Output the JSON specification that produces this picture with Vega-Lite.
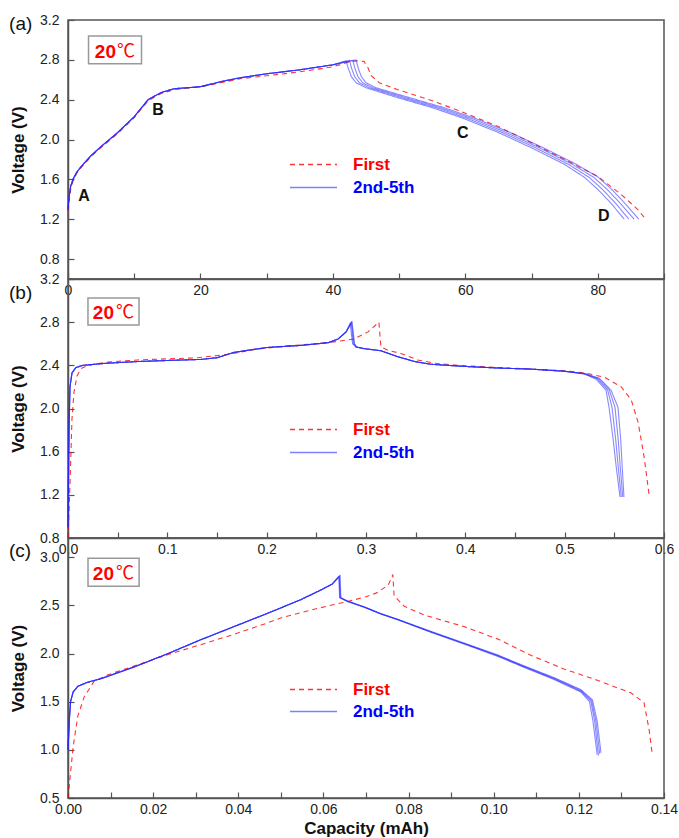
{
"$schema": "https://vega.github.io/schema/vega-lite/v6.json",
"padding": {"left": 8, "top": 12, "right": 0, "bottom": 0},
"spacing": 0,
"bounds": "flush",
"config": {
  "font": "Liberation Sans",
  "view": {"stroke": "#555", "strokeWidth": 1.5},
  "axis": {"domainColor": "#555", "domainWidth": 1.5, "tickColor": "#555", "tickWidth": 1.2, "labelFontSize": 14, "labelColor": "#222", "labelFont": "Liberation Sans", "titleFont": "Liberation Sans", "titleFontSize": 17, "titleFontWeight": "bold", "titleColor": "#111", "grid": false, "labelFlush": false, "labelOverlap": false, "labelBound": false},
  "legend": {"orient": "none", "legendX": 221, "title": null, "symbolType": "stroke", "symbolSize": 2209, "symbolStrokeWidth": 1.3, "labelFontSize": 17, "labelFontWeight": "bold", "labelFont": "Liberation Sans", "labelOffset": 15, "padding": 0}
},
"resolve": {"scale": {"color": "independent", "strokeDash": "independent"}, "legend": {"color": "independent", "strokeDash": "independent"}},
"vconcat": [
{
  "width": 596, "height": 259,
  "layer": [
    {"data": {"values": [{"x": 3.1, "xe": 11.1, "v": 2.76, "ve": 3.04}]},
     "mark": {"type": "rect", "fill": "white", "stroke": "#999", "strokeWidth": 1.5},
     "encoding": {
       "x": {"field": "x", "type": "quantitative", "title": null, "scale": {"domain": [0, 90], "nice": false},
             "axis": {"values": [0,10,20,30,40,50,60,70,80,90], "format": "d", "labelExpr": "datum.value % 20 === 0 ? datum.label : ''", "tickSize": -6, "labelPadding": 10, "encode": {"ticks": {"update": {"y2": {"signal": "datum.value % 20 === 0 ? -6 : -3"}}}}}},
       "x2": {"field": "xe"},
       "y": {"field": "v", "type": "quantitative", "title": "Voltage (V)", "scale": {"domain": [0.6, 3.2], "nice": false},
             "axis": {"values": [0.8,1.0,1.2,1.4,1.6,1.8,2.0,2.2,2.4,2.6,2.8,3.0,3.2], "format": ".1f", "labelExpr": "round(datum.value*10) % 4 === 0 ? datum.label : ''", "tickSize": -6, "labelPadding": 15, "titlePadding": 12, "encode": {"ticks": {"update": {"x2": {"signal": "round(datum.value*10) % 4 === 0 ? 6 : 3"}}}}}},
       "y2": {"field": "ve"}
     }},
    {"data": {"values": [
{"s":"1st","x":0,"v":1.28},{"s":"1st","x":0.15,"v":1.38},{"s":"1st","x":0.4,"v":1.5},{"s":"1st","x":0.75,"v":1.58},{"s":"1st","x":1.3,"v":1.66},{"s":"1st","x":2,"v":1.72},{"s":"1st","x":3.5,"v":1.83},{"s":"1st","x":5,"v":1.92},{"s":"1st","x":7.5,"v":2.06},{"s":"1st","x":10,"v":2.22},{"s":"1st","x":12.1,"v":2.39},{"s":"1st","x":14,"v":2.46},{"s":"1st","x":16,"v":2.5},{"s":"1st","x":20,"v":2.53},{"s":"1st","x":23,"v":2.57},{"s":"1st","x":26,"v":2.61},{"s":"1st","x":30,"v":2.64},{"s":"1st","x":35,"v":2.68},{"s":"1st","x":40,"v":2.73},{"s":"1st","x":42,"v":2.77},{"s":"1st","x":43.5,"v":2.79},{"s":"1st","x":44.7,"v":2.785},{"s":"1st","x":45.3,"v":2.72},{"s":"1st","x":45.8,"v":2.64},{"s":"1st","x":47,"v":2.57},{"s":"1st","x":49.8,"v":2.5},{"s":"1st","x":55,"v":2.39},{"s":"1st","x":59.8,"v":2.27},{"s":"1st","x":65,"v":2.13},{"s":"1st","x":69.9,"v":1.97},{"s":"1st","x":75,"v":1.8},{"s":"1st","x":80,"v":1.63},{"s":"1st","x":83.5,"v":1.45},{"s":"1st","x":86,"v":1.3},{"s":"1st","x":87,"v":1.22},
{"s":"5th","x":0,"v":1.3},{"s":"5th","x":0.15,"v":1.42},{"s":"5th","x":0.4,"v":1.53},{"s":"5th","x":0.75,"v":1.6},{"s":"5th","x":1.3,"v":1.67},{"s":"5th","x":2,"v":1.73},{"s":"5th","x":3.5,"v":1.84},{"s":"5th","x":5,"v":1.93},{"s":"5th","x":7.5,"v":2.07},{"s":"5th","x":10,"v":2.23},{"s":"5th","x":12.1,"v":2.4},{"s":"5th","x":14,"v":2.47},{"s":"5th","x":16,"v":2.51},{"s":"5th","x":20,"v":2.53},{"s":"5th","x":23,"v":2.58},{"s":"5th","x":26,"v":2.62},{"s":"5th","x":30,"v":2.66},{"s":"5th","x":35,"v":2.7},{"s":"5th","x":40,"v":2.75},
{"s":"5th","x":42.0,"v":2.79},{"s":"5th","x":42.3,"v":2.72},{"s":"5th","x":42.8,"v":2.63},{"s":"5th","x":43.5,"v":2.57},{"s":"5th","x":45,"v":2.52},{"s":"5th","x":49.8,"v":2.42},{"s":"5th","x":55,"v":2.32},{"s":"5th","x":59.8,"v":2.21},{"s":"5th","x":65,"v":2.07},{"s":"5th","x":69.9,"v":1.92},{"s":"5th","x":75,"v":1.75},{"s":"5th","x":78,"v":1.62},{"s":"5th","x":80,"v":1.5},{"s":"5th","x":82,"v":1.36},{"s":"5th","x":84.0,"v":1.2},
{"s":"4th","x":0,"v":1.3},{"s":"4th","x":0.15,"v":1.42},{"s":"4th","x":0.4,"v":1.53},{"s":"4th","x":0.75,"v":1.6},{"s":"4th","x":1.3,"v":1.67},{"s":"4th","x":2,"v":1.73},{"s":"4th","x":3.5,"v":1.84},{"s":"4th","x":5,"v":1.93},{"s":"4th","x":7.5,"v":2.07},{"s":"4th","x":10,"v":2.23},{"s":"4th","x":12.1,"v":2.4},{"s":"4th","x":14,"v":2.47},{"s":"4th","x":16,"v":2.51},{"s":"4th","x":20,"v":2.53},{"s":"4th","x":23,"v":2.58},{"s":"4th","x":26,"v":2.62},{"s":"4th","x":30,"v":2.66},{"s":"4th","x":35,"v":2.7},{"s":"4th","x":40,"v":2.75},
{"s":"4th","x":42.5,"v":2.795},{"s":"4th","x":42.8,"v":2.72},{"s":"4th","x":43.3,"v":2.63},{"s":"4th","x":44.0,"v":2.57},{"s":"4th","x":45.5,"v":2.52},{"s":"4th","x":50.4,"v":2.42},{"s":"4th","x":55.6,"v":2.32},{"s":"4th","x":60.4,"v":2.21},{"s":"4th","x":65.6,"v":2.07},{"s":"4th","x":70.5,"v":1.92},{"s":"4th","x":75.6,"v":1.75},{"s":"4th","x":78.7,"v":1.62},{"s":"4th","x":80.7,"v":1.5},{"s":"4th","x":82.7,"v":1.36},{"s":"4th","x":84.7,"v":1.2},
{"s":"3rd","x":0,"v":1.3},{"s":"3rd","x":0.15,"v":1.42},{"s":"3rd","x":0.4,"v":1.53},{"s":"3rd","x":0.75,"v":1.6},{"s":"3rd","x":1.3,"v":1.67},{"s":"3rd","x":2,"v":1.73},{"s":"3rd","x":3.5,"v":1.84},{"s":"3rd","x":5,"v":1.93},{"s":"3rd","x":7.5,"v":2.07},{"s":"3rd","x":10,"v":2.23},{"s":"3rd","x":12.1,"v":2.4},{"s":"3rd","x":14,"v":2.47},{"s":"3rd","x":16,"v":2.51},{"s":"3rd","x":20,"v":2.53},{"s":"3rd","x":23,"v":2.58},{"s":"3rd","x":26,"v":2.62},{"s":"3rd","x":30,"v":2.66},{"s":"3rd","x":35,"v":2.7},{"s":"3rd","x":40,"v":2.75},
{"s":"3rd","x":43.0,"v":2.795},{"s":"3rd","x":43.3,"v":2.72},{"s":"3rd","x":43.8,"v":2.63},{"s":"3rd","x":44.5,"v":2.57},{"s":"3rd","x":46,"v":2.52},{"s":"3rd","x":51,"v":2.42},{"s":"3rd","x":56.2,"v":2.32},{"s":"3rd","x":61,"v":2.21},{"s":"3rd","x":66.2,"v":2.07},{"s":"3rd","x":71.1,"v":1.92},{"s":"3rd","x":76.2,"v":1.75},{"s":"3rd","x":79.4,"v":1.62},{"s":"3rd","x":81.4,"v":1.5},{"s":"3rd","x":83.4,"v":1.36},{"s":"3rd","x":85.5,"v":1.2},
{"s":"2nd","x":0,"v":1.3},{"s":"2nd","x":0.15,"v":1.42},{"s":"2nd","x":0.4,"v":1.53},{"s":"2nd","x":0.75,"v":1.6},{"s":"2nd","x":1.3,"v":1.67},{"s":"2nd","x":2,"v":1.73},{"s":"2nd","x":3.5,"v":1.84},{"s":"2nd","x":5,"v":1.93},{"s":"2nd","x":7.5,"v":2.07},{"s":"2nd","x":10,"v":2.23},{"s":"2nd","x":12.1,"v":2.4},{"s":"2nd","x":14,"v":2.47},{"s":"2nd","x":16,"v":2.51},{"s":"2nd","x":20,"v":2.53},{"s":"2nd","x":23,"v":2.58},{"s":"2nd","x":26,"v":2.62},{"s":"2nd","x":30,"v":2.66},{"s":"2nd","x":35,"v":2.7},{"s":"2nd","x":40,"v":2.75},
{"s":"2nd","x":43.5,"v":2.8},{"s":"2nd","x":43.8,"v":2.72},{"s":"2nd","x":44.3,"v":2.63},{"s":"2nd","x":45.0,"v":2.57},{"s":"2nd","x":46.5,"v":2.52},{"s":"2nd","x":51.6,"v":2.42},{"s":"2nd","x":56.8,"v":2.32},{"s":"2nd","x":61.6,"v":2.21},{"s":"2nd","x":66.8,"v":2.07},{"s":"2nd","x":71.7,"v":1.92},{"s":"2nd","x":76.8,"v":1.75},{"s":"2nd","x":80.1,"v":1.62},{"s":"2nd","x":82.1,"v":1.5},{"s":"2nd","x":84.1,"v":1.36},{"s":"2nd","x":86.2,"v":1.2}
     ]},
     "mark": {"type": "line", "strokeWidth": 1.1},
     "encoding": {
       "x": {"field": "x", "type": "quantitative", "title": null},
       "y": {"field": "v", "type": "quantitative", "title": "Voltage (V)"},
       "color": {"field": "s", "type": "nominal", "scale": {"domain": ["1st","2nd","3rd","4th","5th"], "range": ["rgba(255,0,0,0.8)","rgba(40,40,255,0.55)","rgba(40,40,255,0.55)","rgba(40,40,255,0.55)","rgba(40,40,255,0.55)"]},
                 "legend": {"legendY": 120, "values": ["1st"], "labelExpr": "'First'", "symbolDash": [5,4], "labelColor": "#ff0000"}},
       "strokeDash": {"field": "s", "type": "nominal", "scale": {"domain": ["5th","4th","3rd","2nd","1st"], "range": [[1,0],[1,0],[1,0],[1,0],[5,4]]},
                 "legend": {"legendY": 143, "values": ["2nd"], "labelExpr": "'2nd-5th'", "symbolStrokeColor": "rgba(40,40,255,0.6)", "labelColor": "#0000ff"}}
     }},
    {"data": {"values": [{"x": 7.25, "v": 2.88, "t": "20"}]},
     "mark": {"type": "text", "align": "right", "baseline": "middle", "fontWeight": "bold", "fontSize": 19, "color": "#ff0000"},
     "encoding": {"x": {"field": "x", "type": "quantitative", "title": null}, "y": {"field": "v", "type": "quantitative", "title": "Voltage (V)"}, "text": {"field": "t"}}},
    {"data": {"values": [{"x": 7.4, "v": 2.88, "t": "℃"}]},
     "mark": {"type": "text", "align": "left", "baseline": "middle", "fontSize": 18, "font": "Noto Sans CJK SC", "color": "#ff0000"},
     "encoding": {"x": {"field": "x", "type": "quantitative", "title": null}, "y": {"field": "v", "type": "quantitative", "title": "Voltage (V)"}, "text": {"field": "t"}}},
    {"data": {"values": [{"x": -8.9, "v": 3.16, "t": "(a)"}]},
     "mark": {"type": "text", "align": "left", "baseline": "middle", "fontSize": 19, "color": "#111"},
     "encoding": {"x": {"field": "x", "type": "quantitative", "title": null}, "y": {"field": "v", "type": "quantitative", "title": "Voltage (V)"}, "text": {"field": "t"}}},
    {"data": {"values": [{"x": 2.42, "v": 1.43, "t": "A"}, {"x": 13.6, "v": 2.3, "t": "B"}, {"x": 59.6, "v": 2.07, "t": "C"}, {"x": 80.9, "v": 1.23, "t": "D"}]},
     "mark": {"type": "text", "align": "center", "baseline": "middle", "fontWeight": "bold", "fontSize": 16, "color": "#111"},
     "encoding": {"x": {"field": "x", "type": "quantitative", "title": null}, "y": {"field": "v", "type": "quantitative", "title": "Voltage (V)"}, "text": {"field": "t"}}}
  ]
},
{
  "width": 596, "height": 259,
  "layer": [
    {"data": {"values": [{"x": 0.0201, "xe": 0.0715, "v": 2.774, "ve": 3.024}]},
     "mark": {"type": "rect", "fill": "white", "stroke": "#999", "strokeWidth": 1.5},
     "encoding": {
       "x": {"field": "x", "type": "quantitative", "title": null, "scale": {"domain": [0, 0.6], "nice": false},
             "axis": {"values": [0,0.05,0.1,0.15,0.2,0.25,0.3,0.35,0.4,0.45,0.5,0.55,0.6], "format": ".1f", "labelExpr": "round(datum.value*100) % 10 === 0 ? datum.label : ''", "tickSize": -6, "labelPadding": 10, "encode": {"ticks": {"update": {"y2": {"signal": "round(datum.value*100) % 10 === 0 ? -6 : -3"}}}}}},
       "x2": {"field": "xe"},
       "y": {"field": "v", "type": "quantitative", "title": "Voltage (V)", "scale": {"domain": [0.8, 3.2], "nice": false},
             "axis": {"values": [0.8,1.0,1.2,1.4,1.6,1.8,2.0,2.2,2.4,2.6,2.8,3.0,3.2], "format": ".1f", "labelExpr": "round(datum.value*10) % 4 === 0 ? datum.label : ''", "tickSize": -6, "labelPadding": 15, "titlePadding": 12, "encode": {"ticks": {"update": {"x2": {"signal": "round(datum.value*10) % 4 === 0 ? 6 : 3"}}}}}},
       "y2": {"field": "ve"}
     }},
    {"data": {"values": [
{"s":"1st","x":0,"v":0.8},{"s":"1st","x":0.002,"v":1.3},{"s":"1st","x":0.004,"v":1.9},{"s":"1st","x":0.006,"v":2.15},{"s":"1st","x":0.009,"v":2.3},{"s":"1st","x":0.013,"v":2.37},{"s":"1st","x":0.02,"v":2.4},{"s":"1st","x":0.04,"v":2.43},{"s":"1st","x":0.07,"v":2.45},{"s":"1st","x":0.1,"v":2.46},{"s":"1st","x":0.13,"v":2.47},{"s":"1st","x":0.16,"v":2.5},{"s":"1st","x":0.19,"v":2.55},{"s":"1st","x":0.22,"v":2.58},{"s":"1st","x":0.25,"v":2.6},{"s":"1st","x":0.27,"v":2.62},{"s":"1st","x":0.288,"v":2.645},{"s":"1st","x":0.302,"v":2.71},{"s":"1st","x":0.313,"v":2.8},{"s":"1st","x":0.315,"v":2.57},{"s":"1st","x":0.322,"v":2.54},{"s":"1st","x":0.335,"v":2.51},{"s":"1st","x":0.352,"v":2.45},{"s":"1st","x":0.369,"v":2.42},{"s":"1st","x":0.386,"v":2.405},{"s":"1st","x":0.42,"v":2.385},{"s":"1st","x":0.466,"v":2.365},{"s":"1st","x":0.5,"v":2.35},{"s":"1st","x":0.52,"v":2.33},{"s":"1st","x":0.54,"v":2.29},{"s":"1st","x":0.557,"v":2.2},{"s":"1st","x":0.567,"v":2.08},{"s":"1st","x":0.574,"v":1.87},{"s":"1st","x":0.58,"v":1.55},{"s":"1st","x":0.585,"v":1.2},
{"s":"5th","x":0,"v":0.9},{"s":"5th","x":0.001,"v":1.8},{"s":"5th","x":0.002,"v":2.2},{"s":"5th","x":0.004,"v":2.33},{"s":"5th","x":0.008,"v":2.38},{"s":"5th","x":0.015,"v":2.4},{"s":"5th","x":0.04,"v":2.42},{"s":"5th","x":0.07,"v":2.435},{"s":"5th","x":0.1,"v":2.445},{"s":"5th","x":0.134,"v":2.455},{"s":"5th","x":0.15,"v":2.47},{"s":"5th","x":0.167,"v":2.52},{"s":"5th","x":0.2,"v":2.565},{"s":"5th","x":0.235,"v":2.585},{"s":"5th","x":0.262,"v":2.61},{"s":"5th","x":0.272,"v":2.645},{"s":"5th","x":0.28,"v":2.71},
{"s":"5th","x":0.284,"v":2.79},{"s":"5th","x":0.2865,"v":2.6},{"s":"5th","x":0.29,"v":2.57},{"s":"5th","x":0.298,"v":2.555},{"s":"5th","x":0.315,"v":2.535},{"s":"5th","x":0.332,"v":2.48},{"s":"5th","x":0.349,"v":2.435},{"s":"5th","x":0.365,"v":2.41},{"s":"5th","x":0.399,"v":2.39},{"s":"5th","x":0.433,"v":2.375},{"s":"5th","x":0.466,"v":2.365},{"s":"5th","x":0.5,"v":2.345},
{"s":"5th","x":0.52,"v":2.32},{"s":"5th","x":0.532,"v":2.27},{"s":"5th","x":0.5416,"v":2.17},{"s":"5th","x":0.5447,"v":2.01},{"s":"5th","x":0.549,"v":1.7},{"s":"5th","x":0.552,"v":1.45},{"s":"5th","x":0.5557,"v":1.18},
{"s":"4th","x":0,"v":0.9},{"s":"4th","x":0.001,"v":1.8},{"s":"4th","x":0.002,"v":2.2},{"s":"4th","x":0.004,"v":2.33},{"s":"4th","x":0.008,"v":2.38},{"s":"4th","x":0.015,"v":2.4},{"s":"4th","x":0.04,"v":2.42},{"s":"4th","x":0.07,"v":2.435},{"s":"4th","x":0.1,"v":2.445},{"s":"4th","x":0.134,"v":2.455},{"s":"4th","x":0.15,"v":2.47},{"s":"4th","x":0.167,"v":2.52},{"s":"4th","x":0.2,"v":2.565},{"s":"4th","x":0.235,"v":2.585},{"s":"4th","x":0.262,"v":2.61},{"s":"4th","x":0.272,"v":2.645},{"s":"4th","x":0.28,"v":2.71},
{"s":"4th","x":0.285,"v":2.795},{"s":"4th","x":0.2873,"v":2.6},{"s":"4th","x":0.29,"v":2.57},{"s":"4th","x":0.298,"v":2.555},{"s":"4th","x":0.315,"v":2.535},{"s":"4th","x":0.332,"v":2.48},{"s":"4th","x":0.349,"v":2.435},{"s":"4th","x":0.365,"v":2.41},{"s":"4th","x":0.399,"v":2.39},{"s":"4th","x":0.433,"v":2.375},{"s":"4th","x":0.466,"v":2.365},{"s":"4th","x":0.5,"v":2.345},
{"s":"4th","x":0.52,"v":2.32},{"s":"4th","x":0.533,"v":2.275},{"s":"4th","x":0.5433,"v":2.17},{"s":"4th","x":0.5477,"v":2.01},{"s":"4th","x":0.5515,"v":1.7},{"s":"4th","x":0.554,"v":1.45},{"s":"4th","x":0.557,"v":1.18},
{"s":"3rd","x":0,"v":0.9},{"s":"3rd","x":0.001,"v":1.8},{"s":"3rd","x":0.002,"v":2.2},{"s":"3rd","x":0.004,"v":2.33},{"s":"3rd","x":0.008,"v":2.38},{"s":"3rd","x":0.015,"v":2.4},{"s":"3rd","x":0.04,"v":2.42},{"s":"3rd","x":0.07,"v":2.435},{"s":"3rd","x":0.1,"v":2.445},{"s":"3rd","x":0.134,"v":2.455},{"s":"3rd","x":0.15,"v":2.47},{"s":"3rd","x":0.167,"v":2.52},{"s":"3rd","x":0.2,"v":2.565},{"s":"3rd","x":0.235,"v":2.585},{"s":"3rd","x":0.262,"v":2.61},{"s":"3rd","x":0.272,"v":2.645},{"s":"3rd","x":0.28,"v":2.71},
{"s":"3rd","x":0.2855,"v":2.8},{"s":"3rd","x":0.288,"v":2.6},{"s":"3rd","x":0.29,"v":2.57},{"s":"3rd","x":0.298,"v":2.555},{"s":"3rd","x":0.315,"v":2.535},{"s":"3rd","x":0.332,"v":2.48},{"s":"3rd","x":0.349,"v":2.435},{"s":"3rd","x":0.365,"v":2.41},{"s":"3rd","x":0.399,"v":2.39},{"s":"3rd","x":0.433,"v":2.375},{"s":"3rd","x":0.466,"v":2.365},{"s":"3rd","x":0.5,"v":2.345},
{"s":"3rd","x":0.52,"v":2.322},{"s":"3rd","x":0.534,"v":2.278},{"s":"3rd","x":0.545,"v":2.17},{"s":"3rd","x":0.5507,"v":2.01},{"s":"3rd","x":0.554,"v":1.7},{"s":"3rd","x":0.556,"v":1.45},{"s":"3rd","x":0.5585,"v":1.18},
{"s":"2nd","x":0,"v":0.9},{"s":"2nd","x":0.001,"v":1.8},{"s":"2nd","x":0.002,"v":2.2},{"s":"2nd","x":0.004,"v":2.33},{"s":"2nd","x":0.008,"v":2.38},{"s":"2nd","x":0.015,"v":2.4},{"s":"2nd","x":0.04,"v":2.42},{"s":"2nd","x":0.07,"v":2.435},{"s":"2nd","x":0.1,"v":2.445},{"s":"2nd","x":0.134,"v":2.455},{"s":"2nd","x":0.15,"v":2.47},{"s":"2nd","x":0.167,"v":2.52},{"s":"2nd","x":0.2,"v":2.565},{"s":"2nd","x":0.235,"v":2.585},{"s":"2nd","x":0.262,"v":2.61},{"s":"2nd","x":0.272,"v":2.645},{"s":"2nd","x":0.28,"v":2.71},
{"s":"2nd","x":0.286,"v":2.8},{"s":"2nd","x":0.2885,"v":2.6},{"s":"2nd","x":0.2905,"v":2.57},{"s":"2nd","x":0.298,"v":2.555},{"s":"2nd","x":0.315,"v":2.535},{"s":"2nd","x":0.332,"v":2.48},{"s":"2nd","x":0.349,"v":2.435},{"s":"2nd","x":0.365,"v":2.41},{"s":"2nd","x":0.399,"v":2.39},{"s":"2nd","x":0.433,"v":2.375},{"s":"2nd","x":0.466,"v":2.365},{"s":"2nd","x":0.5,"v":2.345},
{"s":"2nd","x":0.52,"v":2.325},{"s":"2nd","x":0.535,"v":2.28},{"s":"2nd","x":0.5467,"v":2.17},{"s":"2nd","x":0.5537,"v":2.01},{"s":"2nd","x":0.5565,"v":1.7},{"s":"2nd","x":0.558,"v":1.45},{"s":"2nd","x":0.5597,"v":1.18}
     ]},
     "mark": {"type": "line", "strokeWidth": 1.1},
     "encoding": {
       "x": {"field": "x", "type": "quantitative", "title": null},
       "y": {"field": "v", "type": "quantitative", "title": "Voltage (V)"},
       "color": {"field": "s", "type": "nominal", "scale": {"domain": ["1st","2nd","3rd","4th","5th"], "range": ["rgba(255,0,0,0.8)","rgba(40,40,255,0.55)","rgba(40,40,255,0.55)","rgba(40,40,255,0.55)","rgba(40,40,255,0.55)"]},
                 "legend": {"legendY": 126, "values": ["1st"], "labelExpr": "'First'", "symbolDash": [5,4], "labelColor": "#ff0000"}},
       "strokeDash": {"field": "s", "type": "nominal", "scale": {"domain": ["5th","4th","3rd","2nd","1st"], "range": [[1,0],[1,0],[1,0],[1,0],[5,4]]},
                 "legend": {"legendY": 149, "values": ["2nd"], "labelExpr": "'2nd-5th'", "symbolStrokeColor": "rgba(40,40,255,0.6)", "labelColor": "#0000ff"}}
     }},
    {"data": {"values": [{"x": 0.0463, "v": 2.885, "t": "20"}]},
     "mark": {"type": "text", "align": "right", "baseline": "middle", "fontWeight": "bold", "fontSize": 19, "color": "#ff0000"},
     "encoding": {"x": {"field": "x", "type": "quantitative", "title": null}, "y": {"field": "v", "type": "quantitative", "title": "Voltage (V)"}, "text": {"field": "t"}}},
    {"data": {"values": [{"x": 0.0483, "v": 2.885, "t": "℃"}]},
     "mark": {"type": "text", "align": "left", "baseline": "middle", "fontSize": 18, "font": "Noto Sans CJK SC", "color": "#ff0000"},
     "encoding": {"x": {"field": "x", "type": "quantitative", "title": null}, "y": {"field": "v", "type": "quantitative", "title": "Voltage (V)"}, "text": {"field": "t"}}},
    {"data": {"values": [{"x": -0.0594, "v": 3.07, "t": "(b)"}]},
     "mark": {"type": "text", "align": "left", "baseline": "middle", "fontSize": 19, "color": "#111"},
     "encoding": {"x": {"field": "x", "type": "quantitative", "title": null}, "y": {"field": "v", "type": "quantitative", "title": "Voltage (V)"}, "text": {"field": "t"}}}
  ]
},
{
  "width": 596, "height": 260,
  "layer": [
    {"data": {"values": [{"x": 0.0047, "xe": 0.0167, "v": 2.70, "ve": 2.99}]},
     "mark": {"type": "rect", "fill": "white", "stroke": "#999", "strokeWidth": 1.5},
     "encoding": {
       "x": {"field": "x", "type": "quantitative", "title": "Capacity (mAh)", "scale": {"domain": [0, 0.14], "nice": false},
             "axis": {"values": [0,0.01,0.02,0.03,0.04,0.05,0.06,0.07,0.08,0.09,0.1,0.11,0.12,0.13,0.14], "format": ".2f", "labelExpr": "round(datum.value*100) % 2 === 0 ? datum.label : ''", "tickSize": -6, "labelPadding": 10, "titlePadding": 4, "encode": {"ticks": {"update": {"y2": {"signal": "round(datum.value*100) % 2 === 0 ? -6 : -3"}}}}}},
       "x2": {"field": "xe"},
       "y": {"field": "v", "type": "quantitative", "title": "Voltage (V)", "scale": {"domain": [0.5, 3.2], "nice": false},
             "axis": {"values": [0.5,0.75,1.0,1.25,1.5,1.75,2.0,2.25,2.5,2.75,3.0], "format": ".1f", "labelExpr": "round(datum.value*100) % 50 === 0 ? datum.label : ''", "tickSize": -6, "labelPadding": 15, "titlePadding": 12, "encode": {"ticks": {"update": {"x2": {"signal": "round(datum.value*100) % 50 === 0 ? 6 : 3"}}}}}},
       "y2": {"field": "ve"}
     }},
    {"data": {"values": [
{"s":"1st","x":0,"v":0.5},{"s":"1st","x":0.0005,"v":0.72},{"s":"1st","x":0.0012,"v":1.03},{"s":"1st","x":0.0023,"v":1.35},{"s":"1st","x":0.0038,"v":1.55},{"s":"1st","x":0.0061,"v":1.71},{"s":"1st","x":0.0094,"v":1.78},{"s":"1st","x":0.0155,"v":1.87},{"s":"1st","x":0.0235,"v":1.99},{"s":"1st","x":0.031,"v":2.09},{"s":"1st","x":0.039,"v":2.2},{"s":"1st","x":0.047,"v":2.32},{"s":"1st","x":0.05,"v":2.37},{"s":"1st","x":0.0578,"v":2.46},{"s":"1st","x":0.0625,"v":2.51},{"s":"1st","x":0.0657,"v":2.54},{"s":"1st","x":0.07,"v":2.59},{"s":"1st","x":0.0725,"v":2.63},{"s":"1st","x":0.0752,"v":2.71},{"s":"1st","x":0.0763,"v":2.82},{"s":"1st","x":0.0766,"v":2.6},{"s":"1st","x":0.079,"v":2.49},{"s":"1st","x":0.0837,"v":2.4},{"s":"1st","x":0.093,"v":2.28},{"s":"1st","x":0.101,"v":2.15},{"s":"1st","x":0.1088,"v":1.98},{"s":"1st","x":0.1165,"v":1.84},{"s":"1st","x":0.1245,"v":1.72},{"s":"1st","x":0.1323,"v":1.59},{"s":"1st","x":0.1353,"v":1.49},{"s":"1st","x":0.1365,"v":1.21},{"s":"1st","x":0.1372,"v":0.97},
{"s":"5th","x":0,"v":1.0},{"s":"5th","x":0.0003,"v":1.3},{"s":"5th","x":0.0006,"v":1.5},{"s":"5th","x":0.0012,"v":1.6},{"s":"5th","x":0.0023,"v":1.66},{"s":"5th","x":0.0045,"v":1.7},{"s":"5th","x":0.0078,"v":1.74},{"s":"5th","x":0.0155,"v":1.86},{"s":"5th","x":0.0235,"v":2.0},{"s":"5th","x":0.031,"v":2.14},{"s":"5th","x":0.039,"v":2.28},{"s":"5th","x":0.047,"v":2.42},{"s":"5th","x":0.0547,"v":2.56},{"s":"5th","x":0.0594,"v":2.66},{"s":"5th","x":0.062,"v":2.72},
{"s":"5th","x":0.0636,"v":2.8},{"s":"5th","x":0.0638,"v":2.58},{"s":"5th","x":0.0657,"v":2.54},{"s":"5th","x":0.0696,"v":2.48},{"s":"5th","x":0.0735,"v":2.41},{"s":"5th","x":0.0775,"v":2.35},{"s":"5th","x":0.0853,"v":2.22},{"s":"5th","x":0.093,"v":2.1},{"s":"5th","x":0.101,"v":1.97},{"s":"5th","x":0.1064,"v":1.87},{"s":"5th","x":0.1142,"v":1.73},{"s":"5th","x":0.1205,"v":1.6},{"s":"5th","x":0.1225,"v":1.5},{"s":"5th","x":0.1233,"v":1.3},{"s":"5th","x":0.1243,"v":0.95},
{"s":"4th","x":0,"v":1.0},{"s":"4th","x":0.0003,"v":1.3},{"s":"4th","x":0.0006,"v":1.5},{"s":"4th","x":0.0012,"v":1.6},{"s":"4th","x":0.0023,"v":1.66},{"s":"4th","x":0.0045,"v":1.7},{"s":"4th","x":0.0078,"v":1.74},{"s":"4th","x":0.0155,"v":1.86},{"s":"4th","x":0.0235,"v":2.0},{"s":"4th","x":0.031,"v":2.14},{"s":"4th","x":0.039,"v":2.28},{"s":"4th","x":0.047,"v":2.42},{"s":"4th","x":0.0547,"v":2.56},{"s":"4th","x":0.0594,"v":2.66},{"s":"4th","x":0.062,"v":2.72},
{"s":"4th","x":0.0637,"v":2.8},{"s":"4th","x":0.0639,"v":2.58},{"s":"4th","x":0.0657,"v":2.542},{"s":"4th","x":0.0696,"v":2.482},{"s":"4th","x":0.0735,"v":2.412},{"s":"4th","x":0.0775,"v":2.352},{"s":"4th","x":0.0853,"v":2.223},{"s":"4th","x":0.093,"v":2.103},{"s":"4th","x":0.101,"v":1.975},{"s":"4th","x":0.1064,"v":1.875},{"s":"4th","x":0.1142,"v":1.737},{"s":"4th","x":0.1205,"v":1.608},{"s":"4th","x":0.1228,"v":1.507},{"s":"4th","x":0.1237,"v":1.3},{"s":"4th","x":0.1246,"v":0.94},
{"s":"3rd","x":0,"v":1.0},{"s":"3rd","x":0.0003,"v":1.3},{"s":"3rd","x":0.0006,"v":1.5},{"s":"3rd","x":0.0012,"v":1.6},{"s":"3rd","x":0.0023,"v":1.66},{"s":"3rd","x":0.0045,"v":1.7},{"s":"3rd","x":0.0078,"v":1.74},{"s":"3rd","x":0.0155,"v":1.86},{"s":"3rd","x":0.0235,"v":2.0},{"s":"3rd","x":0.031,"v":2.14},{"s":"3rd","x":0.039,"v":2.28},{"s":"3rd","x":0.047,"v":2.42},{"s":"3rd","x":0.0547,"v":2.56},{"s":"3rd","x":0.0594,"v":2.66},{"s":"3rd","x":0.062,"v":2.72},
{"s":"3rd","x":0.0638,"v":2.8},{"s":"3rd","x":0.064,"v":2.58},{"s":"3rd","x":0.0657,"v":2.543},{"s":"3rd","x":0.0696,"v":2.483},{"s":"3rd","x":0.0735,"v":2.413},{"s":"3rd","x":0.0775,"v":2.353},{"s":"3rd","x":0.0853,"v":2.226},{"s":"3rd","x":0.093,"v":2.106},{"s":"3rd","x":0.101,"v":1.98},{"s":"3rd","x":0.1064,"v":1.88},{"s":"3rd","x":0.1142,"v":1.743},{"s":"3rd","x":0.1205,"v":1.617},{"s":"3rd","x":0.123,"v":1.513},{"s":"3rd","x":0.124,"v":1.3},{"s":"3rd","x":0.1249,"v":0.96},
{"s":"2nd","x":0,"v":1.0},{"s":"2nd","x":0.0003,"v":1.3},{"s":"2nd","x":0.0006,"v":1.5},{"s":"2nd","x":0.0012,"v":1.6},{"s":"2nd","x":0.0023,"v":1.66},{"s":"2nd","x":0.0045,"v":1.7},{"s":"2nd","x":0.0078,"v":1.74},{"s":"2nd","x":0.0155,"v":1.86},{"s":"2nd","x":0.0235,"v":2.0},{"s":"2nd","x":0.031,"v":2.14},{"s":"2nd","x":0.039,"v":2.28},{"s":"2nd","x":0.047,"v":2.42},{"s":"2nd","x":0.0547,"v":2.56},{"s":"2nd","x":0.0594,"v":2.66},{"s":"2nd","x":0.062,"v":2.72},
{"s":"2nd","x":0.0639,"v":2.81},{"s":"2nd","x":0.0641,"v":2.58},{"s":"2nd","x":0.0657,"v":2.545},{"s":"2nd","x":0.0696,"v":2.485},{"s":"2nd","x":0.0735,"v":2.415},{"s":"2nd","x":0.0775,"v":2.355},{"s":"2nd","x":0.0853,"v":2.23},{"s":"2nd","x":0.093,"v":2.11},{"s":"2nd","x":0.101,"v":1.985},{"s":"2nd","x":0.1064,"v":1.885},{"s":"2nd","x":0.1142,"v":1.75},{"s":"2nd","x":0.1205,"v":1.625},{"s":"2nd","x":0.1232,"v":1.52},{"s":"2nd","x":0.1243,"v":1.3},{"s":"2nd","x":0.1252,"v":0.97}
     ]},
     "mark": {"type": "line", "strokeWidth": 1.1},
     "encoding": {
       "x": {"field": "x", "type": "quantitative", "title": "Capacity (mAh)"},
       "y": {"field": "v", "type": "quantitative", "title": "Voltage (V)"},
       "color": {"field": "s", "type": "nominal", "scale": {"domain": ["1st","2nd","3rd","4th","5th"], "range": ["rgba(255,0,0,0.8)","rgba(40,40,255,0.55)","rgba(40,40,255,0.55)","rgba(40,40,255,0.55)","rgba(40,40,255,0.55)"]},
                 "legend": {"legendY": 127, "values": ["1st"], "labelExpr": "'First'", "symbolDash": [5,4], "labelColor": "#ff0000"}},
       "strokeDash": {"field": "s", "type": "nominal", "scale": {"domain": ["5th","4th","3rd","2nd","1st"], "range": [[1,0],[1,0],[1,0],[1,0],[5,4]]},
                 "legend": {"legendY": 149, "values": ["2nd"], "labelExpr": "'2nd-5th'", "symbolStrokeColor": "rgba(40,40,255,0.6)", "labelColor": "#0000ff"}}
     }},
    {"data": {"values": [{"x": 0.0108, "v": 2.83, "t": "20"}]},
     "mark": {"type": "text", "align": "right", "baseline": "middle", "fontWeight": "bold", "fontSize": 19, "color": "#ff0000"},
     "encoding": {"x": {"field": "x", "type": "quantitative", "title": "Capacity (mAh)"}, "y": {"field": "v", "type": "quantitative", "title": "Voltage (V)"}, "text": {"field": "t"}}},
    {"data": {"values": [{"x": 0.0113, "v": 2.83, "t": "℃"}]},
     "mark": {"type": "text", "align": "left", "baseline": "middle", "fontSize": 18, "font": "Noto Sans CJK SC", "color": "#ff0000"},
     "encoding": {"x": {"field": "x", "type": "quantitative", "title": "Capacity (mAh)"}, "y": {"field": "v", "type": "quantitative", "title": "Voltage (V)"}, "text": {"field": "t"}}},
    {"data": {"values": [{"x": -0.01386, "v": 3.07, "t": "(c)"}]},
     "mark": {"type": "text", "align": "left", "baseline": "middle", "fontSize": 19, "color": "#111"},
     "encoding": {"x": {"field": "x", "type": "quantitative", "title": "Capacity (mAh)"}, "y": {"field": "v", "type": "quantitative", "title": "Voltage (V)"}, "text": {"field": "t"}}}
  ]
}
]
}
